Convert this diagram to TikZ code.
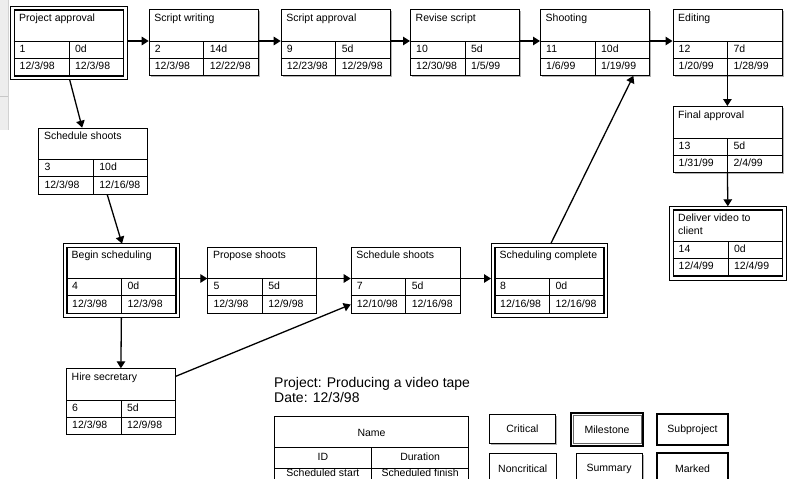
\documentclass[tikz,border=0pt]{standalone}
\usepackage{fontspec}
\setmainfont{Liberation Sans}
\usetikzlibrary{arrows.meta,shadows}

\tikzset{
  taskbox/.style={draw, fill=white, rectangle, anchor=north west, inner sep=0pt,
    minimum width=109pt, minimum height=66pt, line width=0.8pt},
  critical/.style={drop shadow={shadow xshift=1.6pt, shadow yshift=-1.6pt, fill=black!30, opacity=1}},
  milestone/.style={line width=1.8pt},
  boxtext/.style={anchor=base west, inner sep=0pt, font=\fontsize{10.5}{13.3}\selectfont},
  rowline/.style={line width=0.8pt},
  arr/.style={line width=1.3pt, -{Triangle[length=7pt,width=8.5pt]}},
  msframe/.style={line width=0.7pt},
  keybox/.style={draw, fill=white, anchor=north west, inner sep=0pt, line width=0.8pt,
    font=\fontsize{10.5}{12}\selectfont},
  keytext/.style={anchor=base, inner sep=0pt, font=\fontsize{10.5}{12}\selectfont},
}

% one PERT box: name, top left corner, title, id, duration, start, finish
\newcommand{\pertbox}[8][]{%
  \node[taskbox,#1] (#2) at (#3) {};
  \node[boxtext] (#2-title) at ([shift={(5.5pt,-12pt)}]#2.north west) {#4};
  \draw[rowline] ([yshift=-32pt]#2.north west) -- ([yshift=-32pt]#2.north east);
  \draw[rowline] ([yshift=-49pt]#2.north west) -- ([yshift=-49pt]#2.north east);
  \draw[rowline] ([yshift=-32pt]#2.north) -- (#2.south);
  \node[boxtext] (#2-id) at ([shift={(6pt,-43pt)}]#2.north west) {#5};
  \node[boxtext] (#2-dur) at ([shift={(6pt,-43pt)}]#2.north) {#6};
  \node[boxtext] (#2-start) at ([shift={(6pt,-60.5pt)}]#2.north west) {#7};
  \node[boxtext] (#2-end) at ([shift={(6pt,-60.5pt)}]#2.north) {#8};
  \coordinate (#2-l) at ([yshift=-32pt]#2.north west);
  \coordinate (#2-r) at ([yshift=-32pt]#2.north east);
}
\newcommand{\msline}[1]{%
  \draw[msframe] ([shift={(-3pt,3pt)}]#1.north west) rectangle ([shift={(3pt,-3pt)}]#1.south east);}

\begin{document}
\begin{tikzpicture}[x=1pt,y=-1pt]
\useasboundingbox (0,0) rectangle (790,479);
\clip (0,0) rectangle (790,479);
\fill[white] (0,0) rectangle (790,479);
\fill[black!7] (0,0) rectangle (8,130);
\draw[black!22] (0,96) -- (8,96);
\draw[black!18] (8,0) -- (8,130);

% critical path
\pertbox[milestone]{t1}{13.5,9}{Project approval}{1}{0d}{12/3/98}{12/3/98}
\pertbox[critical]{t2}{148.7,9}{Script writing}{2}{14d}{12/3/98}{12/22/98}
\pertbox[critical]{t9}{280.7,9}{Script approval}{9}{5d}{12/23/98}{12/29/98}
\pertbox[critical]{t10}{410,9}{Revise script}{10}{5d}{12/30/98}{1/5/99}
\pertbox[critical]{t11}{540,9}{Shooting}{11}{10d}{1/6/99}{1/19/99}
\pertbox[critical]{t12}{672.5,9}{Editing}{12}{7d}{1/20/99}{1/28/99}
\pertbox[critical]{t13}{672.5,106}{Final approval}{13}{5d}{1/31/99}{2/4/99}
\pertbox[milestone]{t14}{672.5,209.3}{\vtop{\hbox{Deliver video to}\hbox{client}}}{14}{0d}{12/4/99}{12/4/99}
\msline{t1}
\msline{t14}

% scheduling
\pertbox{t3}{38.3,127.7}{Schedule shoots}{3}{10d}{12/3/98}{12/16/98}
\pertbox[milestone]{t4}{66,246.5}{Begin scheduling}{4}{0d}{12/3/98}{12/3/98}
\pertbox{t5}{207.3,246.5}{Propose shoots}{5}{5d}{12/3/98}{12/9/98}
\pertbox{t7}{350.7,246.5}{Schedule shoots}{7}{5d}{12/10/98}{12/16/98}
\pertbox[milestone]{t8}{494,246.5}{Scheduling complete}{8}{0d}{12/16/98}{12/16/98}
\pertbox{t6}{66,368.3}{Hire secretary}{6}{5d}{12/3/98}{12/9/98}
\msline{t4}
\msline{t8}

\draw[arr, shorten <=3pt] (t1-r) -- (t2-l);
\draw[arr] (t2-r) -- (t9-l);
\draw[arr] (t9-r) -- (t10-l);
\draw[arr] (t10-r) -- (t11-l);
\draw[arr] (t11-r) -- (t12-l);
\draw[arr] (t12.south) -- (t13.north);
\draw[arr, shorten >=3pt] (t13.south) -- (t14.north);
\draw[arr, shorten <=3pt] (t1.south) -- ([xshift=-11pt]t3.north);
\draw[arr, shorten >=3pt] ([xshift=14pt]t3.south) -- ([xshift=1.5pt]t4.north);
\draw[arr, shorten <=3pt] (t4-r) -- (t5-l);
\draw[arr] (t5-r) -- (t7-l);
\draw[arr, shorten >=3pt] (t7-r) -- (t8-l);
\draw[arr, shorten <=3pt] (t4.south) -- (t6.north);
\draw[arr] ([yshift=-8pt]t6.north east) -- ([yshift=-58pt]t7.north west);
\draw[arr, shorten <=3pt] (t8.north) -- ([xshift=38.5pt]t11.south);

% legend
\node[anchor=base west, inner sep=0pt, align=left, font=\fontsize{14}{15.4}\selectfont]
  (proj) at (274,402.7) {Project: Producing a video tape\\Date: 12/3/98};
\node[keybox, minimum width=194.3pt, minimum height=80pt] (key) at (274,416) {};
\draw[rowline] ([yshift=-31.7pt]key.north west) -- ([yshift=-31.7pt]key.north east);
\draw[rowline] ([yshift=-52.3pt]key.north west) -- ([yshift=-52.3pt]key.north east);
\draw[rowline] ([yshift=-31.7pt]key.north) -- (key.south);
\node[keytext] (key-name) at ([yshift=-20pt]key.north) {Name};
\node[keytext] (key-id) at ([shift={(-48.6pt,-44pt)}]key.north) {ID};
\node[keytext] (key-dur) at ([shift={(48.6pt,-44pt)}]key.north) {Duration};
\node[keytext] (key-start) at ([shift={(-48.6pt,-60.7pt)}]key.north) {Scheduled start};
\node[keytext] (key-end) at ([shift={(48.6pt,-60.7pt)}]key.north) {Scheduled finish};

\node[keybox, critical, minimum width=66pt, minimum height=28.4pt] (crit) at (489,414.3) {Critical};
\node[keybox, line width=1.8pt, minimum width=72.3pt, minimum height=32.7pt] (mile) at (570,412.3) {Milestone};
\draw[black!60, line width=0.6pt] ([shift={(3.3pt,-3.3pt)}]mile.north west) rectangle ([shift={(-3.3pt,3.3pt)}]mile.south east);
\node[keybox, line width=1.8pt, minimum width=71.3pt, minimum height=30.7pt] (subp) at (656,413.3) {Subproject};
\node[keybox, minimum width=66.7pt, minimum height=30pt] (noncrit) at (489,453.3) {Noncritical};
\node[keybox, critical, minimum width=66pt, minimum height=30pt] (summ) at (575.7,453.3) {Summary};
\node[keybox, line width=1.8pt, minimum width=71.3pt, minimum height=31.5pt] (mark) at (656,451.7) {Marked};
\end{tikzpicture}
\end{document}
